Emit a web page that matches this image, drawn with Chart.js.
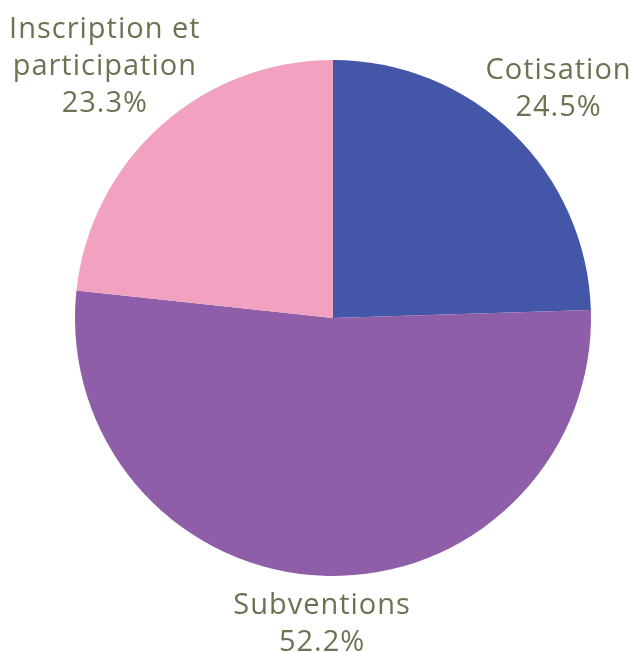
<!DOCTYPE html>
<html lang="fr">
<head>
    <meta charset="UTF-8">
    <script src="https://cdn.jsdelivr.net/npm/chart.js"></script>
    <title>Répartition des recettes</title>
    <style>
        body { margin: 0; background: #fff; }
        #wrap { width: 635px; height: 652px; }
    </style>
</head>
<body>
    <div id="wrap">
        <canvas id="myChart"></canvas>
    </div>
    <script>
        const categories = ['Cotisation', 'Subventions', 'Inscription et participation'];
        const labelLines = [['Cotisation'], ['Subventions'], ['Inscription et', 'participation']];
        const shares = [24.5, 52.2, 23.3];
        const colors = ['#4356a8', '#8e5ea8', '#f3a1c0'];

        const textColor = '#6b7353';
        const fontSize = 29;
        const lineHeight = 37;
        const fontFamily = '"Open Sans", "Noto Sans", sans-serif';

        // draws the labels outside each slice
        const outsideLabels = {
            id: 'outsideLabels',
            afterDatasetsDraw(chart) {
                const ctx = chart.ctx;
                const meta = chart.getDatasetMeta(0);
                ctx.save();
                ctx.font = fontSize + 'px ' + fontFamily;
                ctx.letterSpacing = '1px';
                ctx.fillStyle = textColor;
                ctx.textAlign = 'center';
                ctx.textBaseline = 'middle';
                meta.data.forEach((arc, i) => {
                    const p = arc.getProps(['x', 'y', 'startAngle', 'endAngle', 'outerRadius'], true);
                    const mid = (p.startAngle + p.endAngle) / 2;
                    const lines = labelLines[i].concat([shares[i].toFixed(1) + '%']);
                    let w = 0;
                    lines.forEach(l => { w = Math.max(w, ctx.measureText(l).width); });
                    const h = lines.length * lineHeight;
                    const c = Math.cos(mid), s = Math.sin(mid);
                    const ext = Math.sqrt(Math.pow(c * w / 2, 2) + Math.pow(s * h / 2, 2));
                    const d = p.outerRadius + 8 + ext;
                    const cx = p.x + c * d;
                    const cy = p.y + s * d + 3;
                    lines.forEach((l, k) => {
                        ctx.fillText(l, cx + 0.5, cy - h / 2 + lineHeight * (k + 0.5));
                    });
                });
                ctx.restore();
            }
        };

        new Chart(document.getElementById('myChart'), {
            type: 'pie',
            data: {
                labels: categories,
                datasets: [{
                    data: shares,
                    backgroundColor: colors,
                    borderWidth: 0
                }]
            },
            options: {
                responsive: true,
                maintainAspectRatio: false,
                animation: false,
                layout: {
                    padding: { left: 75, top: 60, right: 44, bottom: 76 }
                },
                plugins: {
                    legend: { display: false },
                    tooltip: { enabled: false }
                }
            },
            plugins: [outsideLabels]
        });
    </script>
</body>
</html>
